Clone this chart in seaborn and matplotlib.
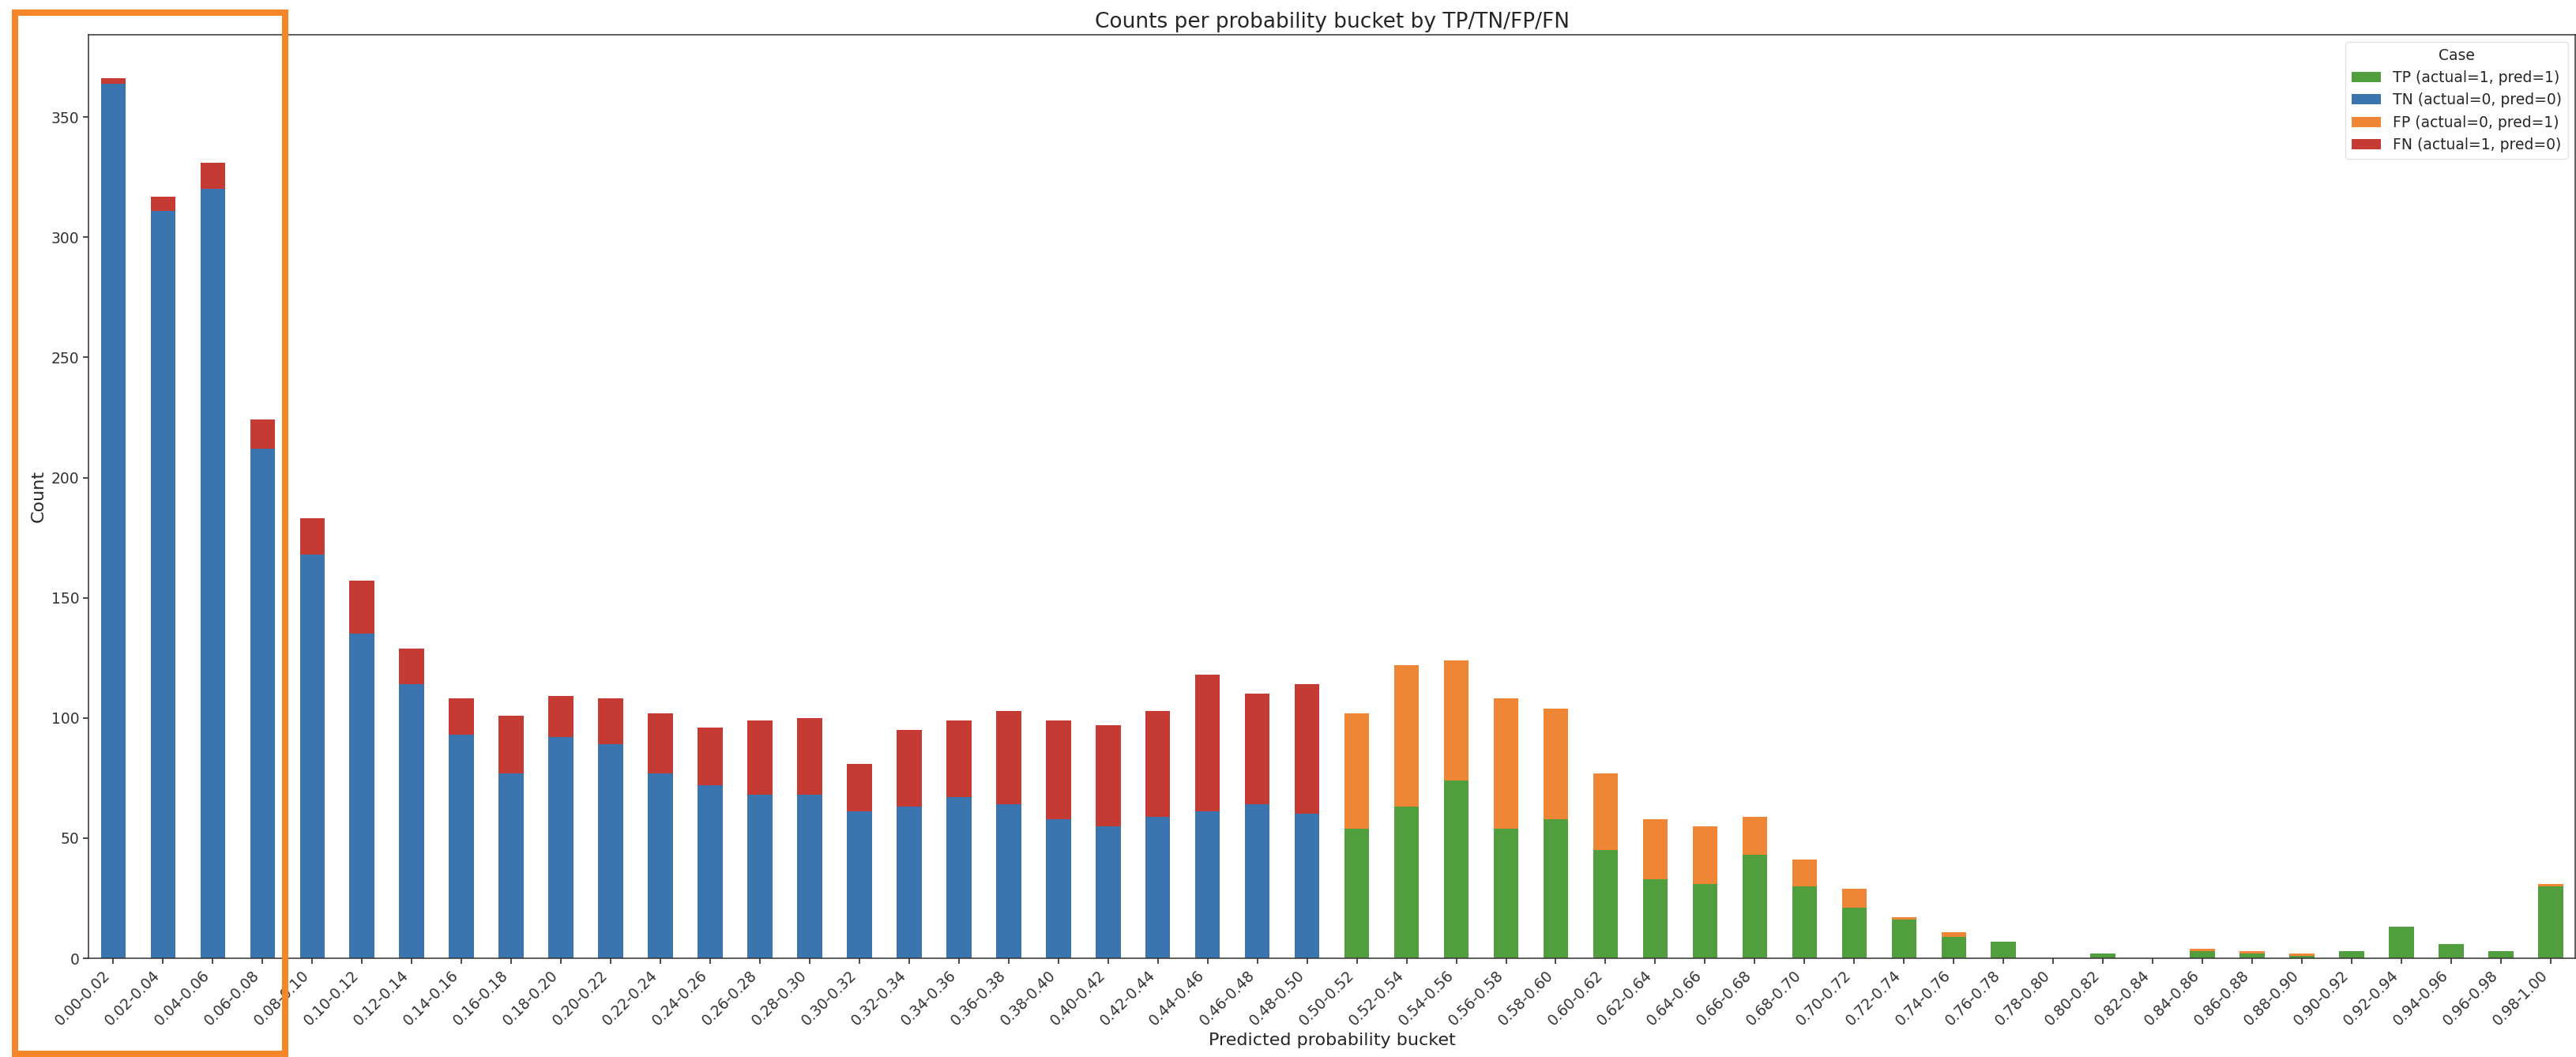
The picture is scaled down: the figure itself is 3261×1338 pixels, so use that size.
import numpy as np
import pandas as pd
import seaborn as sns
import matplotlib.pyplot as plt
from matplotlib.patches import Patch, Rectangle

# probability buckets 0.00-0.02 ... 0.98-1.00
buckets = [f"{i / 50:.2f}-{(i + 1) / 50:.2f}" for i in range(50)]

# counts, one value per bucket
tp = [0] * 25 + [54, 63, 74, 54, 58, 45, 33, 31, 43, 30, 21, 16, 9, 7, 0,
                 2, 0, 3, 2, 1, 3, 13, 6, 3, 30]
tn = [364, 311, 320, 212, 168, 135, 114, 93, 77, 92, 89, 77, 72, 68, 68,
      61, 63, 67, 64, 58, 55, 59, 61, 64, 60] + [0] * 25
fp = [0] * 25 + [48, 59, 50, 54, 46, 32, 25, 24, 16, 11, 8, 1, 2, 0, 0,
                 0, 0, 1, 1, 1, 0, 0, 0, 0, 1]
fn = [2, 6, 11, 12, 15, 22, 15, 15, 24, 17, 19, 25, 24, 31, 32,
      20, 32, 32, 39, 41, 42, 44, 57, 46, 54] + [0] * 25

cases = ["TP (actual=1, pred=1)", "TN (actual=0, pred=0)",
         "FP (actual=0, pred=1)", "FN (actual=1, pred=0)"]
colors = ["#519e3e", "#3b75af", "#ef8636", "#c53a32"]

df = pd.DataFrame({"bucket": buckets, cases[0]: tp, cases[1]: tn,
                   cases[2]: fp, cases[3]: fn})

sns.set_theme(style="ticks")
plt.rcParams["font.family"] = ["DejaVu Sans"]
plt.rcParams["axes.edgecolor"] = "#333333"
plt.rcParams["axes.linewidth"] = 1.1
plt.rcParams["xtick.color"] = "#333333"
plt.rcParams["ytick.color"] = "#333333"
plt.rcParams["xtick.major.size"] = 4.8
plt.rcParams["ytick.major.size"] = 4.8
plt.rcParams["xtick.direction"] = "out"
plt.rcParams["ytick.direction"] = "out"

fig, ax = plt.subplots(figsize=(32.62, 13.38), dpi=100)
fig.subplots_adjust(left=0.0343, right=0.9995, top=0.9673, bottom=0.0934)

# stacked bars: each case sits on top of the previous ones
bottom = np.zeros(len(df))
for case, col in zip(cases, colors):
    sns.barplot(data=df, x="bucket", y=case, color=col, width=0.5,
                bottom=bottom, saturation=1, ax=ax, linewidth=0)
    bottom = bottom + df[case].to_numpy()

ax.set_title("Counts per probability bucket by TP/TN/FP/FN", fontsize=19)
ax.set_xlabel("Predicted probability bucket", fontsize=16)
ax.set_ylabel("Count", fontsize=16)
ax.tick_params(axis="both", labelsize=13.5)
plt.setp(ax.get_xticklabels(), rotation=45, ha="right")

handles = [Patch(facecolor=c, edgecolor="none") for c in colors]
leg = ax.legend(handles, cases, title="Case", loc="upper right",
                fontsize=13.5, title_fontsize=13.5, frameon=True)
leg.get_frame().set_edgecolor("#dddddd")

# highlight box around the first buckets
fig.patches.append(Rectangle((0.00582, 0.003), 0.1048, 0.9854,
                             transform=fig.transFigure, fill=False,
                             edgecolor="#f5862a", linewidth=5.8,
                             clip_on=False))

fig.savefig("out.png", dpi=100)
